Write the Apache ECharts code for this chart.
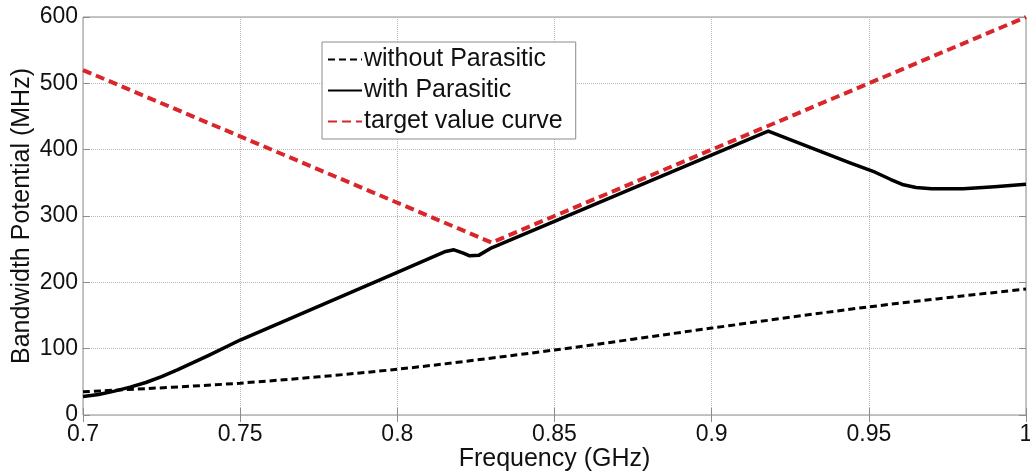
<!DOCTYPE html>
<html>
<head>
<meta charset="utf-8">
<script src="https://cdn.jsdelivr.net/npm/echarts@6/dist/echarts.min.js"></script>
<style>
  html, body { margin: 0; padding: 0; background: #fff; }
  #chart { width: 1030px; height: 473px; }
</style>
</head>
<body>
<div id="chart"></div>
<script>
// frequency (GHz) / bandwidth potential (MHz)
var withoutFreq = [0.7, 0.75, 0.8, 0.85, 0.9, 0.95, 1.0];
var withoutVals = [35, 48, 69, 98, 131, 163, 190];

var withFreq = [0.7, 0.705, 0.71, 0.715, 0.72, 0.725, 0.73, 0.735, 0.74, 0.75, 0.8, 0.815, 0.818,
  0.821, 0.823, 0.826, 0.83, 0.918, 0.944, 0.952, 0.957, 0.961, 0.965, 0.97, 0.98, 0.99, 1.0];
var withVals = [28, 31, 36, 42, 49, 58, 68, 79, 90, 113, 215, 246, 249,
  244, 240, 241, 252, 428, 380, 366, 355, 347, 343, 341, 341, 344, 348];

var targetFreq = [0.7, 0.83, 1.0];
var targetVals = [520, 260, 600];

function pairs(xs, ys) {
  return xs.map(function (x, i) { return [x, ys[i]]; });
}

var chart = echarts.init(document.getElementById("chart"));
var font = "Liberation Sans, Arial, sans-serif";

var option = {
  animation: false,
  grid: {
    left: 83,
    right: 4,
    top: 17,
    bottom: 58,
    outerBoundsMode: "none",
    containLabel: false,
    show: true,
    borderColor: "#8c8c8c",
    borderWidth: 1,
  },
  legend: {
    orient: "vertical",
    left: 322,
    top: 42,
    padding: [5, 13, 5, 5],
    itemGap: 6,
    itemWidth: 34,
    itemHeight: 12,
    borderColor: "#8c8c8c",
    borderWidth: 1,
    backgroundColor: "#fff",
    itemStyle: { opacity: 0 },
    textStyle: { fontFamily: font, fontSize: 25, color: "#111", padding: [0, 0, 0, -3] },
    data: ["without Parasitic", "with Parasitic", "target value curve"],
  },
  xAxis: [
    {
      type: "value",
      min: 0.7,
      max: 1,
      interval: 0.05,
      name: "Frequency (GHz)",
      nameLocation: "middle",
      nameGap: 32,
      nameMoveOverlap: false,
      nameTextStyle: { fontFamily: font, fontSize: 25, color: "#111" },
      axisLine: { show: false },
      axisTick: { show: true, inside: true, length: 7, lineStyle: { color: "#8c8c8c" } },
      axisLabel: {
        fontFamily: font,
        fontSize: 23,
        color: "#111",
        margin: 8,
        formatter: function (v) { return String(+v.toFixed(2)); },
      },
      splitLine: { show: true, lineStyle: { type: "dotted", color: "#b8b8b8" } },
    },
    {
      type: "value",
      position: "top",
      min: 0.7,
      max: 1,
      interval: 0.05,
      axisLine: { show: false },
      axisTick: { show: true, inside: true, length: 7, lineStyle: { color: "#8c8c8c" } },
      axisLabel: { show: false },
      splitLine: { show: false },
    },
  ],
  yAxis: [
    {
      type: "value",
      min: 0,
      max: 600,
      interval: 100,
      name: "Bandwidth Potential (MHz)",
      nameLocation: "middle",
      nameGap: 48,
      nameMoveOverlap: false,
      nameTextStyle: { fontFamily: font, fontSize: 25, color: "#111" },
      axisLine: { show: false },
      axisTick: { show: true, inside: true, length: 7, lineStyle: { color: "#8c8c8c" } },
      axisLabel: { fontFamily: font, fontSize: 23, color: "#111", margin: 5 },
      splitLine: { show: true, lineStyle: { type: "dotted", color: "#b8b8b8" } },
    },
    {
      type: "value",
      position: "right",
      min: 0,
      max: 600,
      interval: 100,
      axisLine: { show: false },
      axisTick: { show: true, inside: true, length: 7, lineStyle: { color: "#8c8c8c" } },
      axisLabel: { show: false },
      splitLine: { show: false },
    },
  ],
  series: [
    {
      name: "without Parasitic",
      type: "line",
      symbol: "none",
      smooth: 0.3,
      data: pairs(withoutFreq, withoutVals),
      lineStyle: { color: "#000", width: 3, type: [7, 4] },
      itemStyle: { color: "#000" },
    },
    {
      name: "with Parasitic",
      type: "line",
      symbol: "none",
      smooth: false,
      data: pairs(withFreq, withVals),
      lineStyle: { color: "#000", width: 3.5, join: "round" },
      itemStyle: { color: "#000" },
    },
    {
      name: "target value curve",
      type: "line",
      symbol: "none",
      data: pairs(targetFreq, targetVals),
      lineStyle: { color: "#d8262b", width: 4, type: [9, 5] },
      itemStyle: { color: "#d8262b" },
    },
  ],
};

chart.setOption(option);
</script>
</body>
</html>
